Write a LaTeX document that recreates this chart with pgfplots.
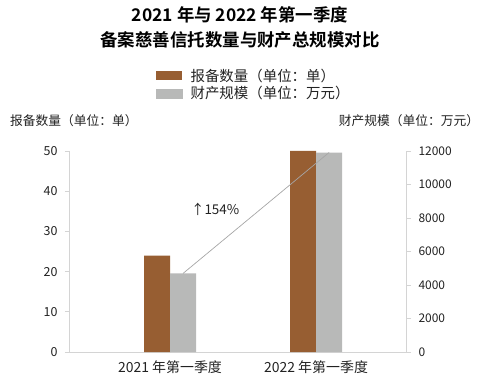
\documentclass[border=0pt]{standalone}
\usepackage{pgfplots}
\pgfplotsset{compat=1.18}
\usepackage{fontspec}
\setmainfont{Noto Sans CJK SC}[BoldFont={Noto Sans CJK SC Bold}]
\definecolor{brownc}{HTML}{975E32}
\definecolor{grayc}{HTML}{B8B9B8}
\definecolor{axisc}{HTML}{D4D4D4}
\definecolor{linec}{HTML}{A6A6A6}
\definecolor{txt}{HTML}{222222}
\begin{document}
\begin{tikzpicture}
\useasboundingbox (-70bp,-26bp) rectangle (410bp,352bp);
\pgfplotsset{
  common/.style={
    at={(0,0)}, anchor=south west, scale only axis,
    width=336bp, height=201bp,
    xmin=-0.685, xmax=1.616,
    ymin=0, clip=false,
    axis line style={axisc, line width=1bp},
    tick style={axisc, line width=0.8bp},
    major tick length=5bp,
    tick align=outside,
    /pgf/number format/assume math mode=true,
    /pgf/number format/1000 sep={},
    scaled y ticks=false,
    xtick={0,1},
    xticklabels={2021 年第一季度, 2022 年第一季度},
    xtick style={draw=none},
    xticklabel style={font=\fontsize{14}{16}\selectfont, text=txt},
    yticklabel style={font=\fontsize{12.5}{15}\selectfont, text=txt},
  }
}
\begin{axis}[common,
  axis x line*=bottom, axis y line*=left,
  ymax=50, ytick={0,10,...,50},
  yticklabel style={xshift=-4bp},
  title={2021 年与 2022 年第一季度\\备案慈善信托数量与财产总规模对比},
  title style={at={(axis description cs:0.506,1.585)}, anchor=center, align=center,
    font=\bfseries\fontsize{17.5}{25}\selectfont, text=black},
  ylabel={报备数量（单位：单）},
  ylabel style={at={(axis description cs:-0.1786,1.149)}, anchor=west, rotate=-90,
    inner sep=0pt, font=\fontsize{12.8}{14}\selectfont, text=txt},
  legend style={at={(axis description cs:0.256,1.42)}, anchor=north west,
    draw=none, fill=none, font=\fontsize{14.5}{16}\selectfont, text=txt,
    row sep=0bp, inner sep=0pt,
    /tikz/every odd column/.append style={column sep=6bp}},
  legend cell align=left,
]
\addplot[ybar, bar width=26bp, bar shift=-13bp, fill=brownc, draw=none,
  legend image code/.code={\fill[brownc] (0bp,-4.5bp) rectangle (26bp,4.5bp);}]
  coordinates {(0,24) (1,50)};
\addlegendentry{报备数量（单位：单）}
\addlegendimage{legend image code/.code={\fill[grayc] (0bp,-4.5bp) rectangle (26bp,4.5bp);}}
\addlegendentry{财产规模（单位：万元）}
\node[anchor=west, font=\fontsize{13.5}{16}\selectfont, text=txt] at (axis cs:0.12,35.6) {↑154\%};
\end{axis}
\begin{axis}[common,
  axis x line=none, axis y line*=right,
  ymax=12000, ytick={0,2000,...,12000},
  yticklabel style={xshift=4bp, font=\fontsize{12}{14}\selectfont},
  ylabel={财产规模（单位：万元）},
  ylabel style={at={(axis description cs:1.218,1.149)}, anchor=east, rotate=-90,
    inner sep=0pt, font=\fontsize{12.8}{14}\selectfont, text=txt},
]
\addplot[ybar, bar width=26bp, bar shift=13bp, fill=grayc, draw=none]
  coordinates {(0,4690) (1,11910)};
\addplot[sharp plot, color=linec, line width=0.7bp, no marks]
  coordinates {(0.089,4690) (1.089,11910)};
\end{axis}
\end{tikzpicture}
\end{document}
